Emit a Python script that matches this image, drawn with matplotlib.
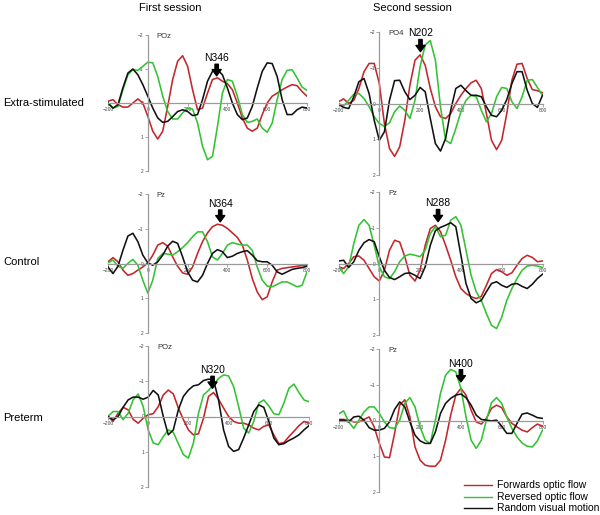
import matplotlib
matplotlib.use("Agg")
import matplotlib.pyplot as plt
import numpy as np

plt.rcParams['font.family'] = ['Liberation Sans', 'DejaVu Sans']

# time points (ms), one every 25 ms
times = list(range(-200, 801, 25))

# amplitudes (uV); negative is plotted upwards
# --- first session, extra-stimulated (POz)
fs_ext_fwd = [-0.05, -0.1, 0.05, 0.12, 0.12, 0.0, -0.12, 0.0, 0.39, 0.83, 1.06, 0.83, 0.1, -0.69, -1.23, -1.39,
              -1.08, -0.39, 0.2, 0.15, -0.29, -0.69, -0.74, -0.64, -0.57, -0.39, 0.0, 0.44, 0.74, 0.83, 0.74,
              0.34, 0.0, -0.2, -0.29, -0.39, -0.47, -0.54, -0.51, -0.34, -0.2]
fs_ext_rev = [0.0, 0.15, 0.1, -0.39, -0.83, -0.98, -0.96, -1.08, -1.2, -1.18, -0.78, -0.2, 0.25, 0.47, 0.47, 0.29,
              0.15, 0.18, 0.59, 1.27, 1.67, 1.57, 0.69, -0.29, -0.69, -0.64, -0.2, 0.34, 0.57, 0.54, 0.47,
              0.74, 0.86, 0.59, -0.1, -0.69, -0.96, -0.98, -0.74, -0.47, -0.37]
fs_ext_rnd = [0.0, 0.15, 0.05, -0.45, -0.88, -1.0, -0.83, -0.54, -0.2, 0.15, 0.44, 0.57, 0.54, 0.4, 0.25, 0.2,
              0.25, 0.37, 0.34, -0.1, -0.64, -0.93, -0.98, -0.83, -0.44, 0.0, 0.34, 0.49, 0.44, 0.1, -0.44,
              -0.93, -1.18, -1.16, -0.78, -0.1, 0.34, 0.34, 0.2, 0.12, 0.15]
# --- second session, extra-stimulated (PO4)
ss_ext_fwd = [-0.05, -0.13, 0.0, -0.09, -0.42, -0.89, -1.12, -1.12, -0.56, 0.56, 1.26, 1.48, 1.21, 0.47, -0.51,
              -1.21, -1.36, -1.07, -0.42, 0.09, 0.37, 0.42, 0.28, 0.0, -0.23, -0.42, -0.58, -0.65, -0.42, 0.28,
              1.03, 1.29, 1.03, 0.28, -0.65, -1.1, -1.12, -0.7, -0.39, -0.36, -0.3]
ss_ext_rev = [0.0, 0.07, -0.09, -0.26, -0.28, -0.14, 0.09, 0.37, 0.56, 0.64, 0.54, 0.23, 0.07, 0.19, 0.42, -0.09,
              -1.03, -1.64, -1.76, -1.21, 0.09, 1.03, 1.12, 0.7, 0.23, -0.09, -0.23, -0.19, 0.19, 0.51, 0.28,
              -0.19, -0.45, -0.42, -0.05, 0.14, -0.19, -0.65, -0.67, -0.45, -0.23]
ss_ext_rnd = [0.02, 0.11, 0.14, -0.19, -0.61, -0.7, -0.28, 0.47, 1.03, 0.79, -0.09, -0.64, -0.65, -0.33, -0.11,
              -0.23, -0.45, -0.33, 0.42, 1.12, 1.33, 0.98, 0.19, -0.42, -0.51, -0.36, -0.23, -0.23, -0.19, 0.09,
              0.33, 0.37, 0.19, -0.11, -0.56, -0.89, -0.89, -0.37, 0.0, 0.11, -0.23]
# --- first session, control (Pz)
fs_con_fwd = [-0.05, -0.17, -0.05, 0.19, 0.34, 0.29, 0.19, 0.1, -0.02, -0.24, -0.53, -0.6, -0.5, -0.19, 0.08,
              0.27, 0.31, 0.1, -0.29, -0.63, -0.88, -1.06, -1.13, -1.1, -1.01, -0.88, -0.75, -0.53, -0.1, 0.43,
              0.82, 1.04, 0.96, 0.53, 0.19, 0.14, 0.12, 0.1, 0.08, 0.06, 0.05]
fs_con_rev = [-0.02, -0.1, 0.08, 0.14, 0.0, -0.12, 0.05, 0.48, 0.85, 0.48, -0.14, -0.29, -0.27, -0.24, -0.34,
              -0.46, -0.6, -0.77, -0.91, -0.91, -0.63, -0.19, -0.1, -0.29, -0.53, -0.6, -0.56, -0.53, -0.53,
              -0.38, 0.1, 0.48, 0.65, 0.67, 0.6, 0.53, 0.53, 0.6, 0.67, 0.63, 0.24]
fs_con_rnd = [0.1, 0.29, 0.08, -0.38, -0.79, -0.87, -0.63, -0.24, -0.02, 0.05, -0.05, -0.24, -0.5, -0.64, -0.58,
              -0.19, 0.24, 0.48, 0.53, 0.34, 0.0, -0.29, -0.4, -0.34, -0.17, -0.21, -0.29, -0.34, -0.37, -0.24,
              -0.08, -0.05, -0.05, 0.05, 0.24, 0.31, 0.24, 0.17, 0.14, 0.12, 0.08]
# --- second session, control (Pz)
ss_con_fwd = [0.09, 0.14, 0.0, -0.19, -0.21, -0.09, 0.14, 0.37, 0.49, 0.19, -0.37, -0.65, -0.6, -0.19, 0.33,
              0.49, 0.19, -0.51, -0.98, -1.07, -0.89, -0.51, -0.09, 0.37, 0.7, 0.84, 0.93, 0.98, 0.92, 0.61,
              0.28, 0.17, 0.23, 0.33, 0.26, 0.05, -0.14, -0.23, -0.17, -0.05, -0.07]
ss_con_rev = [0.07, 0.28, 0.09, -0.56, -1.07, -1.23, -1.07, -0.51, 0.09, 0.37, 0.42, 0.23, -0.05, -0.21, -0.26,
              -0.23, -0.19, -0.37, -0.84, -1.03, -0.75, -0.79, -1.21, -1.31, -1.07, -0.37, 0.33, 0.79, 1.03,
              1.4, 1.73, 1.82, 1.5, 1.03, 0.7, 0.42, 0.19, 0.07, 0.05, 0.07, 0.11]
ss_con_rnd = [-0.07, -0.09, 0.11, -0.05, -0.37, -0.58, -0.67, -0.61, -0.19, 0.19, 0.39, 0.45, 0.37, 0.28, 0.26,
              0.33, 0.42, 0.09, -0.51, -0.92, -1.01, -1.07, -1.14, -1.03, -0.23, 0.56, 0.98, 1.1, 1.03, 0.79,
              0.56, 0.51, 0.61, 0.67, 0.58, 0.56, 0.64, 0.7, 0.58, 0.42, 0.3]
# --- first session, preterm (POz)
fs_pre_fwd = [0.0, 0.14, -0.09, -0.26, -0.19, 0.08, 0.19, 0.05, -0.05, -0.08, -0.28, -0.61, -0.75, -0.64, -0.24,
              0.09, 0.38, 0.52, 0.49, 0.05, -0.57, -0.68, -0.49, -0.24, 0.0, 0.14, 0.19, 0.19, 0.24, 0.33, 0.38,
              0.28, 0.24, 0.52, 0.77, 0.74, 0.57, 0.42, 0.26, 0.14, 0.19]
fs_pre_rev = [0.0, -0.14, -0.14, 0.09, -0.09, -0.47, -0.64, -0.28, 0.38, 0.75, 0.8, 0.57, 0.38, 0.45, 0.77, 1.08,
              1.18, 0.75, -0.09, -0.61, -0.74, -0.9, -1.08, -1.18, -1.15, -0.85, -0.28, 0.33, 0.47, 0.14, -0.38,
              -0.47, -0.3, -0.08, -0.05, -0.38, -0.8, -0.92, -0.68, -0.47, -0.42]
fs_pre_rnd = [0.0, 0.09, 0.0, -0.26, -0.47, -0.55, -0.55, -0.49, -0.55, -0.74, -0.61, 0.0, 0.52, 0.38, -0.19,
              -0.57, -0.75, -0.87, -0.9, -1.02, -1.06, -1.04, -0.47, 0.38, 0.85, 0.99, 0.94, 0.61, 0.24, -0.14,
              -0.33, -0.26, 0.14, 0.61, 0.8, 0.77, 0.68, 0.61, 0.52, 0.38, 0.26]
# --- second session, preterm (Pz)
ss_pre_fwd = [-0.03, -0.03, -0.01, 0.04, 0.04, -0.03, -0.1, 0.18, 0.64, 1.02, 1.04, 0.36, -0.43, -0.58, -0.1,
              0.74, 1.11, 1.25, 1.28, 1.28, 1.11, 0.55, -0.15, -0.71, -0.9, -0.71, -0.29, 0.04, 0.1, -0.06,
              -0.34, -0.43, -0.36, -0.1, 0.08, 0.18, 0.27, 0.32, 0.2, 0.1, 0.16]
ss_pre_rev = [-0.18, -0.27, 0.04, 0.22, -0.01, -0.24, -0.38, -0.38, -0.2, 0.04, 0.2, 0.22, -0.01, -0.48, -0.64,
              -0.38, 0.18, 0.55, 0.64, -0.01, -0.76, -1.27, -1.43, -1.36, -0.9, -0.1, 0.55, 0.78, 0.55, -0.01,
              -0.5, -0.64, -0.48, -0.1, 0.22, 0.46, 0.63, 0.72, 0.74, 0.57, 0.27]
ss_pre_rnd = [-0.01, -0.01, 0.04, -0.1, -0.12, -0.01, 0.2, 0.27, 0.27, 0.22, 0.04, -0.31, -0.52, -0.38, 0.04,
              0.41, 0.57, 0.64, 0.64, 0.32, -0.2, -0.48, -0.62, -0.71, -0.74, -0.64, -0.43, -0.15, -0.03, -0.01,
              0.01, -0.01, 0.16, 0.36, 0.36, 0.08, -0.18, -0.21, -0.15, -0.08, -0.06]

col_titles = ["First session", "Second session"]
row_titles = ["Extra-stimulated", "Control", "Preterm"]
electrodes = [["POz", "PO4"], ["Pz", "Pz"], ["POz", "Pz"]]
peak_labels = [["N346", "N202"], ["N364", "N288"], ["N320", "N400"]]
peak_times = [[346, 202], [364, 288], [320, 400]]
peak_tips = [[-0.8, -1.45], [-1.2, -1.17], [-0.8, -1.08]]
legend_labels = ["Forwards optic flow", "Reversed optic flow", "Random visual motion"]

data = [[(fs_ext_fwd, fs_ext_rev, fs_ext_rnd), (ss_ext_fwd, ss_ext_rev, ss_ext_rnd)],
        [(fs_con_fwd, fs_con_rev, fs_con_rnd), (ss_con_fwd, ss_con_rev, ss_con_rnd)],
        [(fs_pre_fwd, fs_pre_rev, fs_pre_rnd), (ss_pre_fwd, ss_pre_rev, ss_pre_rnd)]]

colors = ["#c4262b", "#33c233", "#111111"]
axis_grey = "#9a9a9a"

W, H = 600, 515
fig = plt.figure(figsize=(6, 5.15), dpi=100)

# panel boxes in pixels: (left, right, top(-2), bottom(+2))
boxes = [[(108, 307, 35, 171), (338.5, 542.5, 32, 175)],
         [(108, 307, 194, 333), (338.5, 542.5, 192, 335)],
         [(108, 309, 346, 487), (338.5, 542.5, 349, 492)]]

for r in range(3):
    for c in range(2):
        l, rr, t, b = boxes[r][c]
        ax = fig.add_axes([l / W, 1 - b / H, (rr - l) / W, (b - t) / H])
        for k in range(3):
            ax.plot(times, data[r][c][k], color=colors[k], lw=1.15, solid_joinstyle='round')
        ax.set_xlim(-200, 800)
        ax.set_ylim(2, -2)
        ax.patch.set_alpha(0)
        for s in ['top', 'right']:
            ax.spines[s].set_visible(False)
        ax.spines['left'].set_position(('data', 0))
        ax.spines['bottom'].set_position(('data', 0))
        for s in ['left', 'bottom']:
            ax.spines[s].set_color(axis_grey)
            ax.spines[s].set_linewidth(0.9)
        ax.set_xticks([-200, 0, 200, 400, 600, 800])
        ax.set_yticks([-2, -1, 0, 1, 2])
        ax.tick_params(axis='both', colors=axis_grey, labelcolor='#444444', labelsize=3.5,
                       length=2, width=0.6, pad=1)
        # electrode name
        ax.text(45, -1.95, electrodes[r][c], fontsize=5.5, color='#333333', va='center', ha='left')
        # peak arrow and label
        pt = peak_times[r][c]
        tip = peak_tips[r][c]
        ax.annotate("", xy=(pt, tip), xytext=(pt, tip - 0.34),
                    arrowprops=dict(facecolor='black', edgecolor='black', width=2.4,
                                    headwidth=6.5, headlength=4.5, shrink=0))
        ax.text(pt, tip - 0.37, peak_labels[r][c], fontsize=7.5, ha='center', va='bottom')
        ax.set_zorder(1)

# column and row titles
fig.text(170 / W, 1 - 8 / H, col_titles[0], fontsize=8, ha='center', va='center')
fig.text(412 / W, 1 - 8 / H, col_titles[1], fontsize=8, ha='center', va='center')
for r, yy in enumerate([103, 262, 418]):
    fig.text(3 / W, 1 - yy / H, row_titles[r], fontsize=8, ha='left', va='center')

# legend
for k, yy in enumerate([485, 497, 508]):
    fig.add_artist(plt.Line2D([464 / W, 492 / W], [1 - yy / H, 1 - yy / H], color=colors[k], lw=1.0))
    fig.text(497 / W, 1 - yy / H, legend_labels[k], fontsize=7.5, ha='left', va='center')

fig.savefig("out.png", dpi=100)
